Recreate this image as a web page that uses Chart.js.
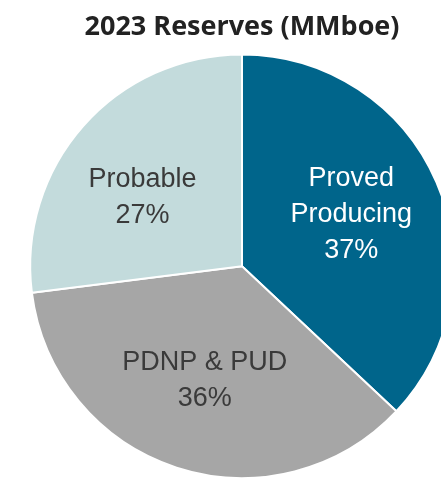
<!DOCTYPE html>
<html>
<head>
<meta charset="utf-8">
<script src="https://cdn.jsdelivr.net/npm/chart.js@4/dist/chart.umd.min.js"></script>
<style>
  html, body { margin: 0; padding: 0; background: #fff; overflow: hidden; }
  #wrap { position: absolute; left: 0; top: 0; width: 490px; height: 480px; }
</style>
</head>
<body>
<div id="wrap"><canvas id="myChart" width="490" height="480"></canvas></div>
<script>
// chart data
var categories = [['Proved', 'Producing'], ['PDNP & PUD'], ['Probable']];
var shares = [37, 36, 27];
var sliceColors = ['#00658b', '#a6a6a6', '#c3dbdc'];
var textColors = ['#ffffff', '#3a3a3a', '#3a3a3a'];

// draws the name + percent inside each slice
var sliceLabels = {
    id: 'sliceLabels',
    afterDatasetsDraw: function(chart) {
        var ctx = chart.ctx;
        var meta = chart.getDatasetMeta(0);
        var nudge = [-0.03, 0, -0.12]; // small angle tweak (radians)
        ctx.save();
        ctx.font = '27px "Liberation Sans", Arial, sans-serif';
        ctx.textAlign = 'center';
        ctx.textBaseline = 'middle';
        meta.data.forEach(function(arc, i) {
            var p = arc.getProps(['x', 'y', 'startAngle', 'endAngle', 'outerRadius']);
            var mid = (p.startAngle + p.endAngle) / 2 + nudge[i];
            var r = p.outerRadius * 0.57;
            var cx = p.x + Math.cos(mid) * r;
            var cy = p.y + Math.sin(mid) * r;
            var lines = categories[i].concat([shares[i] + '%']);
            var lh = 36;
            var top = cy - (lines.length - 1) * lh / 2;
            ctx.fillStyle = textColors[i];
            lines.forEach(function(t, k) {
                ctx.fillText(t, cx, top + k * lh);
            });
        });
        ctx.restore();
    }
};

var ctx = document.getElementById('myChart').getContext('2d');
var myChart = new Chart(ctx, {
    type: 'pie',
    data: {
        labels: categories.map(function(c) { return c.join(' '); }),
        datasets: [{
            data: shares,
            backgroundColor: sliceColors,
            borderColor: '#ffffff',
            borderWidth: 2
        }]
    },
    options: {
        responsive: false,
        animation: false,
        layout: { padding: { left: 29, right: 35, top: 0, bottom: 1 } },
        plugins: {
            legend: { display: false },
            tooltip: { enabled: false },
            title: {
                display: true,
                text: '2023 Reserves (MMboe)',
                color: '#222222',
                font: { family: '"Open Sans", sans-serif', size: 27, weight: 'bold' },
                padding: { top: 11, bottom: 10 }
            }
        }
    },
    plugins: [sliceLabels]
});
</script>
</body>
</html>
